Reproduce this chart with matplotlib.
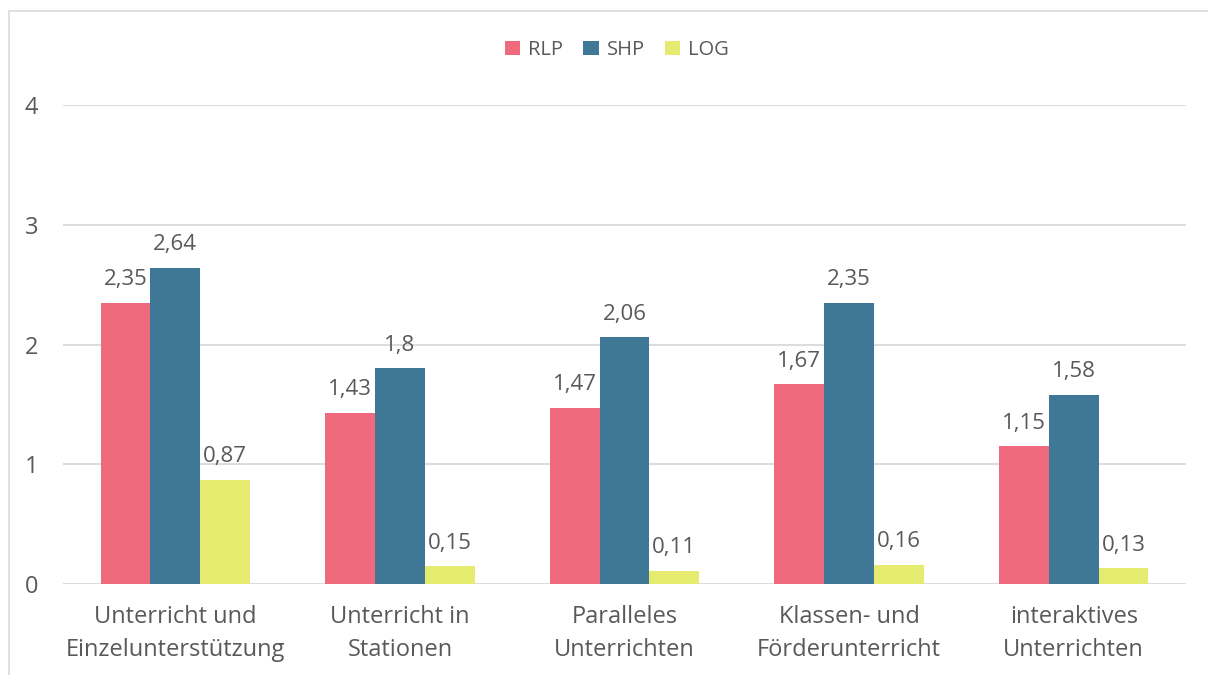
import numpy as np
import matplotlib.pyplot as plt
from matplotlib.patches import Rectangle

plt.rcParams['font.family'] = ['Open Sans', 'DejaVu Sans']

# data
categories = ["Unterricht und\nEinzelunterstützung", "Unterricht in\nStationen",
              "Paralleles\nUnterrichten", "Klassen- und\nFörderunterricht",
              "interaktives\nUnterrichten"]
rlp = [2.35, 1.43, 1.47, 1.67, 1.15]
shp = [2.64, 1.8, 2.06, 2.35, 1.58]
log = [0.87, 0.15, 0.11, 0.16, 0.13]
series_names = ["RLP", "SHP", "LOG"]
colors = ["#EE6A7C", "#3F7896", "#E5EB6E"]

text_col = "#595959"
fs = 17
fig = plt.figure(figsize=(12.08, 6.75), dpi=100)
ax = fig.add_axes([63 / 1208, 91 / 675, (1186 - 63) / 1208, 479 / 675])

# outer chart frame (cut off at right and bottom in the reference)
fig.patches.append(Rectangle((8.5 / 1208, -0.1), 1.2, 1.1 - 11.5 / 675,
                             transform=fig.transFigure, fill=False,
                             edgecolor="#d9d9d9", linewidth=1.2))

x = np.arange(len(categories))
w = 0.222
for i, (vals, name, c) in enumerate(zip([rlp, shp, log], series_names, colors)):
    bars = ax.bar(x + (i - 1) * w, vals, w, color=c, label=name, zorder=3)
    for b, v in zip(bars, vals):
        ax.annotate(f"{v:g}".replace(".", ","), (b.get_x() + b.get_width() / 2, v),
                    xytext=(0, 9), textcoords="offset points", ha="center",
                    va="bottom", fontsize=16, color=text_col)

ax.set_xlim(-0.5, len(categories) - 0.5)
ax.set_ylim(0, 4)
ax.set_yticks([0, 1, 2, 3, 4])
ax.set_xticks(x)
ax.set_xticklabels(categories, fontsize=fs, color=text_col, linespacing=1.5)
ax.tick_params(axis="both", length=0, labelsize=fs, labelcolor=text_col)
ax.tick_params(axis="x", pad=15)
ax.tick_params(axis="y", pad=18)
ax.grid(axis="y", color="#d9d9d9", linewidth=1.3, zorder=0)
for s in ax.spines.values():
    s.set_visible(False)

fig.legend(loc="center", bbox_to_anchor=(617 / 1208, 1 - 50 / 675), ncol=3,
           frameon=False, fontsize=14.5, labelcolor=text_col, handlelength=0.75,
           handleheight=0.75, handletextpad=0.4, columnspacing=1.0)

fig.savefig("out.png", dpi=100, facecolor="white")
